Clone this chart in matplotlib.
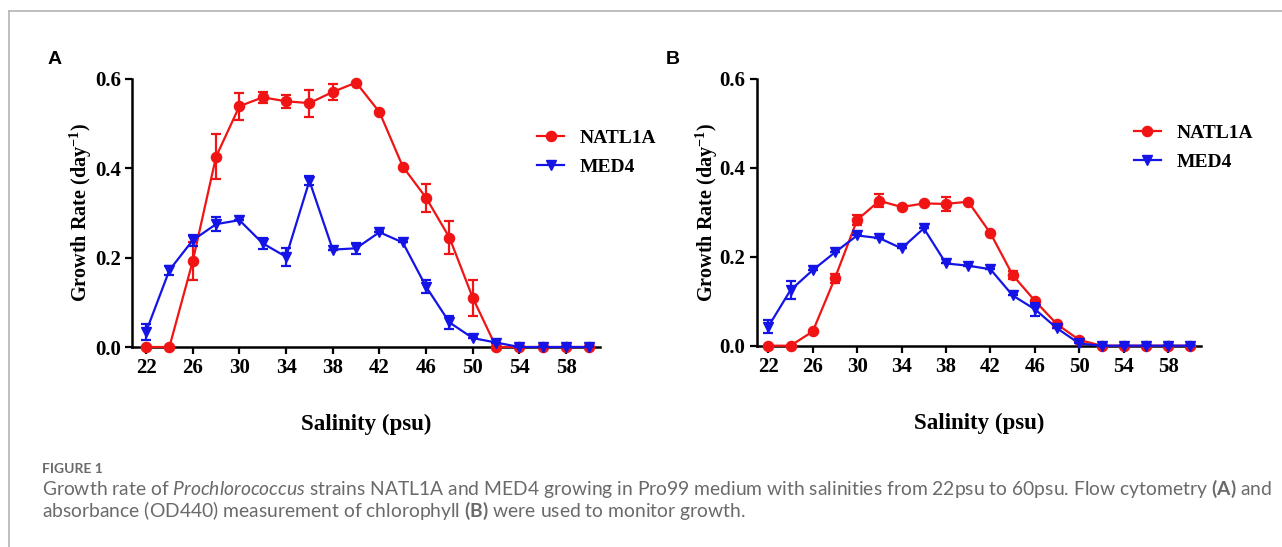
import matplotlib
matplotlib.use("Agg")
import matplotlib.pyplot as plt
from matplotlib.lines import Line2D

# mathtext: superscript in Times-like bold, caption italic/bold in Lato
plt.rcParams['mathtext.fontset'] = 'custom'
plt.rcParams['mathtext.rm'] = 'Liberation Serif:bold'
plt.rcParams['mathtext.it'] = 'Lato:italic'
plt.rcParams['mathtext.bf'] = 'Lato:bold'

salinity = [22, 24, 26, 28, 30, 32, 34, 36, 38, 40, 42, 44, 46, 48, 50, 52, 54, 56, 58, 60]
x_ticks = [22, 26, 30, 34, 38, 42, 46, 50, 54, 58]
y_ticks = [0.0, 0.2, 0.4, 0.6]

# panel A: flow cytometry
natl_a = [0, 0, 0.192, 0.426, 0.539, 0.559, 0.550, 0.546, 0.571, 0.592,
          0.526, 0.404, 0.334, 0.245, 0.110, 0, 0, 0, 0, 0]
natl_a_err = [0, 0, 0.042, 0.050, 0.030, 0.012, 0.015, 0.030, 0.018, 0,
              0, 0, 0.031, 0.036, 0.040, 0, 0, 0, 0, 0]
med4_a = [0.034, 0.172, 0.239, 0.275, 0.284, 0.232, 0.202, 0.372, 0.218, 0.221,
          0.257, 0.234, 0.135, 0.055, 0.020, 0.010, 0, 0, 0, 0]
med4_a_err = [0.018, 0.010, 0.012, 0.015, 0, 0.012, 0.020, 0.010, 0, 0.012,
              0, 0, 0.015, 0.015, 0, 0, 0, 0, 0, 0]

# panel B: absorbance OD440
natl_b = [0, 0, 0.032, 0.152, 0.283, 0.326, 0.312, 0.320, 0.319, 0.324,
          0.253, 0.159, 0.101, 0.048, 0.013, 0, 0, 0, 0, 0]
natl_b_err = [0, 0, 0, 0.010, 0.012, 0.015, 0, 0, 0.015, 0,
              0, 0.010, 0, 0, 0, 0, 0, 0, 0, 0]
med4_b = [0.043, 0.125, 0.170, 0.210, 0.248, 0.242, 0.219, 0.264, 0.185, 0.180,
          0.172, 0.113, 0.082, 0.039, 0.005, 0, 0, 0, 0, 0]
med4_b_err = [0.015, 0.020, 0, 0, 0, 0, 0, 0, 0, 0,
              0, 0, 0.015, 0, 0, 0, 0, 0, 0, 0]

RED = '#f01414'
BLUE = '#1414e6'
SERIF = 'Liberation Serif'

fig = plt.figure(figsize=(12.82, 5.47), dpi=100)


def draw_panel(rect, xlim, natl, natl_err, med4, med4_err, legend_anchor, ypad):
    ax = fig.add_axes(rect)
    style = dict(lw=1.6, capsize=3.5, capthick=1.6, elinewidth=1.6, clip_on=False)
    ax.errorbar(salinity, natl, yerr=natl_err, fmt='-o', color=RED, ms=7.3, zorder=3, **style)
    ax.errorbar(salinity, med4, yerr=med4_err, fmt='-v', color=BLUE, ms=7.8, zorder=4, **style)
    ax.set_xlim(*xlim)
    ax.set_ylim(0, 0.6)
    ax.set_xticks(x_ticks)
    ax.set_yticks(y_ticks)
    ax.set_yticklabels([f'{v:.1f}' for v in y_ticks])
    for s in ['top', 'right']:
        ax.spines[s].set_visible(False)
    for s in ['left', 'bottom']:
        ax.spines[s].set_linewidth(1.8)
    ax.tick_params(length=5, width=1.6, pad=3)
    for lab in ax.get_xticklabels() + ax.get_yticklabels():
        lab.set_fontfamily(SERIF)
        lab.set_fontweight('bold')
        lab.set_fontsize(15)
    ax.set_xlabel('Salinity (psu)', family=SERIF, weight='bold', fontsize=16.5, labelpad=26)
    ax.set_ylabel('Growth Rate (day$^{-1}$)', family=SERIF, weight='bold', fontsize=14.5, labelpad=ypad)
    handles = [Line2D([], [], color=RED, marker='o', ms=7.3, lw=1.6),
               Line2D([], [], color=BLUE, marker='v', ms=7.8, lw=1.6)]
    ax.legend(handles, ['NATL1A', 'MED4'], loc='center left', bbox_to_anchor=legend_anchor,
              frameon=False, prop=dict(family=SERIF, weight='bold', size=14), borderpad=0,
              handlelength=1.4, handletextpad=0.8, labelspacing=0.6)
    return ax


draw_panel([0.103, 0.3656, 0.365, 0.49], (20.8, 60.9), natl_a, natl_a_err,
           med4_a, med4_a_err, (0.845, 0.725), 1)
draw_panel([0.5902, 0.368, 0.347, 0.4876], (20.95, 61.0), natl_b, natl_b_err,
           med4_b, med4_b_err, (0.826, 0.742), 0)

# panel letters
fig.text(48 / 1282, 1 - 60 / 547, 'A', family='Liberation Sans', weight='bold', fontsize=14, va='center')
fig.text(666 / 1282, 1 - 60 / 547, 'B', family='Liberation Sans', weight='bold', fontsize=14, va='center')

# frame lines (left and top)
fig.add_artist(Line2D([9 / 1282, 9 / 1282], [0, 1 - 11 / 547], color='#b4b4b4', lw=1.2))
fig.add_artist(Line2D([9 / 1282, 1], [1 - 11 / 547, 1 - 11 / 547], color='#b4b4b4', lw=1.2))

# caption
GRAY = '#6a6a6a'
fig.text(42 / 1282, 1 - 469 / 547, 'FIGURE 1', family='Lato', weight='bold', fontsize=10,
         color=GRAY, va='center')
fig.text(42 / 1282, 1 - 489 / 547,
         r'Growth rate of $\it{Prochlorococcus}$ strains NATL1A and MED4 growing in Pro99 medium '
         r'with salinities from 22psu to 60psu. Flow cytometry $\bf{(A)}$ and',
         family='Lato', fontsize=13.85, color=GRAY, va='center')
fig.text(42 / 1282, 1 - 511 / 547,
         r'absorbance (OD440) measurement of chlorophyll $\bf{(B)}$ were used to monitor growth.',
         family='Lato', fontsize=13.85, color=GRAY, va='center')

fig.savefig('out.png', dpi=100)
